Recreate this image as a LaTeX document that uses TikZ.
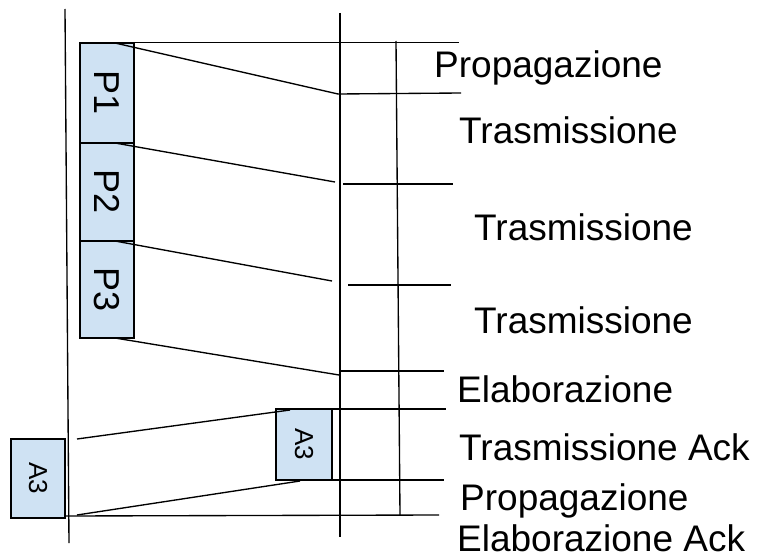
\documentclass[tikz,border=0pt]{standalone}
\usepackage{fontspec}
\setmainfont{Liberation Sans}
\definecolor{pktblue}{HTML}{CFE2F3}
\begin{document}
\begin{tikzpicture}[x=1pt,y=-1pt,
  line/.style={draw=black,line width=1.35pt},
  pkt/.style={draw=black,line width=1.4pt,fill=pktblue,rotate=-90,inner sep=0pt,
    font=\fontsize{36}{38}\selectfont},
  ack/.style={pkt,font=\fontsize{26}{28}\selectfont},
  lbl/.style={anchor=base west,inner sep=0pt,font=\fontsize{37}{40}\selectfont}]
\useasboundingbox (0,0) rectangle (757,559);

% time axes: sender, receiver, phase ruler
\coordinate (sTop) at (65,9);    \coordinate (sBot) at (69,543);
\coordinate (rTop) at (340,13);  \coordinate (rBot) at (340,537);
\coordinate (mTop) at (396,41);  \coordinate (mBot) at (400,515);
\draw[line] (sTop) -- (sBot);
\draw[line] (rTop) -- (rBot);
\draw[line] (mTop) -- (mBot);

% phase boundaries
\coordinate (h0a) at (80,42.5);  \coordinate (h0b) at (459,42.5);
\coordinate (h1a) at (338,94);   \coordinate (h1b) at (461,93);
\coordinate (h2a) at (343,184);  \coordinate (h2b) at (453,184);
\coordinate (h3a) at (348,285);  \coordinate (h3b) at (451,285);
\coordinate (h4a) at (340,371);  \coordinate (h4b) at (444,371);
\coordinate (h5a) at (276,409);  \coordinate (h5b) at (446,409);
\coordinate (h6a) at (332,480);  \coordinate (h6b) at (444,480);
\coordinate (h7a) at (65,516);   \coordinate (h7b) at (439,515);
\foreach \i in {0,...,7} \draw[line] (h\i a) -- (h\i b);

% packets and acknowledgement
\node[pkt,minimum width=100,minimum height=54] (p1) at (107,93)   {P1};
\node[pkt,minimum width=98, minimum height=54] (p2) at (107,192)  {P2};
\node[pkt,minimum width=97, minimum height=54] (p3) at (107,289.5){P3};
\node[ack,minimum width=71, minimum height=56] (ar) at (304,444.5){A3};
\node[ack,minimum width=79, minimum height=54] (al) at (38,478.5) {A3};

% propagation of the packet edges
\coordinate (e1) at (115,43);   \coordinate (f1) at (338,94);
\coordinate (e2) at (115,143);  \coordinate (f2) at (335,182);
\coordinate (e3) at (115,241);  \coordinate (f3) at (332,281);
\coordinate (e4) at (115,338);  \coordinate (f4) at (339,375);
\foreach \i in {1,...,4} \draw[line] (e\i) -- (f\i);

% propagation of the acknowledgement edges
\coordinate (g1) at (290,410);  \coordinate (k1) at (77,439);
\coordinate (g2) at (300,481);  \coordinate (k2) at (77,515);
\draw[line] (g1) -- (k1);
\draw[line] (g2) -- (k2);

% phase names
\node[lbl] (t1) at (434,78)  {Propagazione};
\node[lbl] (t2) at (459,143) {Trasmissione};
\node[lbl] (t3) at (474,240) {Trasmissione};
\node[lbl] (t4) at (474,333) {Trasmissione};
\node[lbl] (t5) at (457,402) {Elaborazione};
\node[lbl] (t6) at (459,460) {Trasmissione Ack};
\node[lbl] (t7) at (460,510) {Propagazione};
\node[lbl] (t8) at (457,551) {Elaborazione Ack};
\end{tikzpicture}
\end{document}
